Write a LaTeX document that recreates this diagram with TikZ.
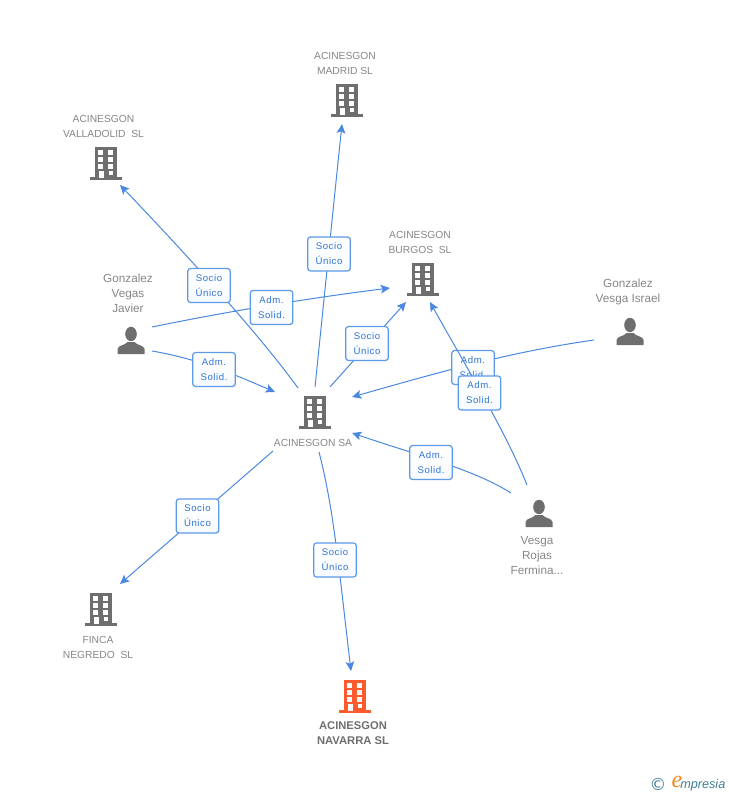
\documentclass[tikz,border=0pt]{standalone}
\usepackage{fontspec}
\setmainfont{Liberation Sans}
\newfontfamily\logoserif{Liberation Serif}
\newfontfamily\logosym{DejaVu Sans}
\usetikzlibrary{arrows.meta}
\definecolor{iconGray}{HTML}{6E6E6E}
\definecolor{iconOrange}{HTML}{FF5A2B}
\definecolor{txtGray}{HTML}{868686}
\definecolor{edgeBlue}{HTML}{4A88E2}
\definecolor{boxBlue}{HTML}{5E9AEA}
\definecolor{boxTxt}{HTML}{2F75D6}
\definecolor{logoTeal}{HTML}{3F7F96}
\definecolor{logoOrange}{HTML}{F08A1E}
\newcommand{\bfsize}{\fontsize{7.7pt}{11.25pt}\selectfont}
\newcommand{\pfsize}{\fontsize{8.8pt}{11.25pt}\selectfont}
\tikzset{
  edge/.style={draw=edgeBlue,line width=0.75pt,-{Stealth[length=7pt,width=6.5pt,inset=1.5pt]}},
  lbl/.style={draw=boxBlue,line width=0.95pt,rounded corners=2.2pt,top color=white,bottom color=white!95!boxBlue,
    minimum width=32pt,minimum height=25.5pt,inner sep=0pt,align=center,text=boxTxt,
    font=\addfontfeature{LetterSpace=6}\fontsize{7.2pt}{11.25pt}\selectfont},
  orgtext/.style={align=center,text=txtGray,inner sep=0pt,font=\bfsize},
  mainorg/.style={align=center,text=iconGray,inner sep=0pt,font=\fontsize{8.4pt}{11.25pt}\selectfont\bfseries},
  pertext/.style={align=center,text=txtGray,inner sep=0pt,font=\pfsize},
  pics/bld/.style={code={
    \fill[#1] (-11,-17) rectangle (11,14);
    \fill[#1] (-16,13) rectangle (16,16);
    \foreach \yy in {-13.7,-6.7,0}{
      \fill[white] (-7.7,\yy) rectangle (-2.7,\yy+4.7);
      \fill[white] (2.3,\yy) rectangle (7.3,\yy+4.7);
    }
    \fill[white] (-6.7,7) rectangle (-2.3,14);
    \fill[white] (2.5,6.7) rectangle (7,11);
  }},
  pics/per/.style={code={
    \fill[iconGray] (0,-6) ellipse [x radius=5.8,y radius=7.2];
    \fill[iconGray] (-13.5,14) -- (-13.5,9) .. controls (-13,5) and (-6,5.5) .. (-3.5,2)
      -- (3.5,2) .. controls (6,5.5) and (13,5) .. (13.5,9) -- (13.5,14) -- cycle;
  }}
}
\begin{document}
\begin{tikzpicture}[x=0.75pt,y=-0.75pt]
\useasboundingbox (0,0) rectangle (728,795);
% icons
\pic at (315,413) {bld=iconGray};
\pic at (347,101) {bld=iconGray};
\pic at (106,164) {bld=iconGray};
\pic at (423,280) {bld=iconGray};
\pic at (101,610) {bld=iconGray};
\pic at (355,697) {bld=iconOrange};
\pic at (131,340) {per};
\pic at (630,331) {per};
\pic at (539,513) {per};
% connector ends
\coordinate (saN) at (315,387);
\coordinate (saNW) at (298,388);
\coordinate (saNE) at (330,387);
\coordinate (saSW) at (273,451);
\coordinate (saS) at (319,452);
\coordinate (saW) at (275,392);
\coordinate (saE) at (352,397);
\coordinate (saSE) at (352,433);
\coordinate (madrid) at (342,124);
\coordinate (valla) at (120,185);
\coordinate (burgosS) at (406,302);
\coordinate (burgosW) at (390,288);
\coordinate (burgosE) at (430,302);
\coordinate (finca) at (120,584);
\coordinate (navarra) at (351,671);
\coordinate (vegasA) at (152,327);
\coordinate (vegasB) at (152,351);
\coordinate (israel) at (594,340);
\coordinate (rojasA) at (527,485);
\coordinate (rojasB) at (511,493);
% connectors
\draw[edge] (saN) .. controls (324,300) and (333,210) .. (madrid);
\draw[edge] (saNW) .. controls (262,338) and (190,258) .. (valla);
\draw[edge] (saNE) -- (burgosS);
\draw[edge] (saSW) -- (finca);
\draw[edge] (saS) .. controls (334,510) and (339,570) .. (navarra);
\draw[edge] (vegasA) .. controls (230,311) and (310,298) .. (burgosW);
\draw[edge] (vegasB) .. controls (200,359) and (240,377) .. (saW);
\draw[edge] (israel) .. controls (510,352) and (440,372) .. (saE);
\draw[edge] (rojasB) .. controls (475,470) and (420,456) .. (saSE);
% labels on connectors
\node[lbl] (l1) at (329,254) {Socio\\Único};
\node[lbl] (l2) at (209,285.5) {Socio\\Único};
\node[lbl] (l3) at (367,343.5) {Socio\\Único};
\node[lbl] (l4) at (197.5,516) {Socio\\Único};
\node[lbl] (l5) at (335,560) {Socio\\Único};
\node[lbl] (l6) at (271.5,307.5) {Adm.\\Solid.};
\node[lbl] (l7) at (214,369.5) {Adm.\\Solid.};
\node[lbl] (l8) at (473,367.5) {Adm.\\Solid.};
\draw[edge] (rojasA) .. controls (505,430) and (465,365) .. (burgosE);
\node[lbl] (l9) at (479.5,393) {Adm.\\Solid.};
\node[lbl] (l10) at (431,462.5) {Adm.\\Solid.};
% texts
\node[orgtext] (tsa) at (313,442.5) {ACINESGON SA};
\node[orgtext] (tmad) at (345,63) {ACINESGON\\MADRID SL};
\node[orgtext] (tval) at (103.5,126) {ACINESGON\\VALLADOLID\ \ SL};
\node[orgtext] (tbur) at (420,242) {ACINESGON\\BURGOS\ \ SL};
\node[orgtext] (tfin) at (98,647) {FINCA\\NEGREDO\ \ SL};
\node[mainorg] (tnav) at (353,733) {ACINESGON\\NAVARRA SL};
\node[pertext] (tveg) at (128,293) {Gonzalez\\Vegas\\Javier};
\node[pertext] (tisr) at (628,291.5) {Gonzalez\\Vesga Israel};
\node[pertext] (trok) at (537,556) {Vesga\\Rojas\\Fermina...};
% logo
\node[inner sep=0pt,text=logoTeal,font=\logosym\fontsize{12.5pt}{13pt}\selectfont] (lc) at (658,784) {©};
\node[inner sep=0pt,text=logoOrange,font=\logoserif\itshape\fontsize{18pt}{18pt}\selectfont] (le) at (677,782) {e};
\node[inner sep=0pt,anchor=west,text=logoTeal,font=\itshape\fontsize{9.5pt}{10pt}\selectfont] (lm) at (680,785) {mpresia};
\end{tikzpicture}
\end{document}
